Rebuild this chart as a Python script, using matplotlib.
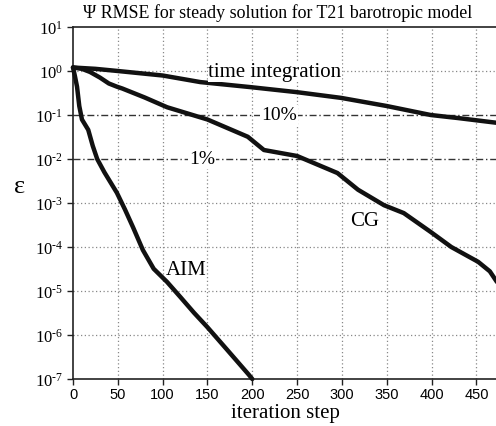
import matplotlib
matplotlib.use("Agg")
import matplotlib.pyplot as plt

# ---- data ----
time_x = [0, 25, 50, 100, 142, 198, 250, 299, 350, 399, 430, 474]
time_y = [1.2, 1.12, 1.0, 0.79, 0.56, 0.43, 0.33, 0.245, 0.16, 0.1, 0.085, 0.066]

cg_x = [0, 10, 19, 30, 40, 49, 55, 80, 105, 150, 195, 213, 250, 295, 318, 347,
        369, 399, 422, 452, 465, 473]
cg_y = [1.2, 1.12, 0.95, 0.71, 0.52, 0.44, 0.4, 0.25, 0.15, 0.079, 0.032, 0.016,
        0.0117, 0.0048, 0.002, 0.00089, 0.00059, 0.00022, 0.0001, 4.6e-5, 2.8e-5, 1.6e-5]

aim_x = [0, 2, 4.5, 7, 10, 17, 22, 27, 35, 49, 58, 67, 78, 90, 105, 120, 135,
         150, 172, 196, 200]
aim_y = [1.2, 0.79, 0.44, 0.16, 0.079, 0.046, 0.02, 0.01, 0.005, 0.0017, 0.00071,
         0.00028, 8.5e-5, 3.2e-5, 1.6e-5, 7.2e-6, 3.2e-6, 1.5e-6, 4.6e-7, 1.26e-7, 1e-7]

x_ticks = [0, 50, 100, 150, 200, 250, 300, 350, 400, 450]
y_exps = [1, 0, -1, -2, -3, -4, -5, -6, -7]
thresholds = [0.1, 0.01]
threshold_labels = ["10%", "1%"]

title = "\u03a8 RMSE for steady solution for T21 barotropic model"

serif = "Liberation Serif"
sans = "Liberation Sans"
plt.rcParams["mathtext.fontset"] = "custom"
plt.rcParams["mathtext.rm"] = serif
plt.rcParams["mathtext.it"] = serif
plt.rcParams["mathtext.bf"] = serif

fig = plt.figure(figsize=(4.96, 4.27), dpi=100)
ax = fig.add_axes([73 / 496, 1 - 380 / 427, 1 - 73 / 496 + 0.002, (380 - 28) / 427])
ax.set_yscale("log")
ax.set_xlim(0, 473)
ax.set_ylim(1e-7, 1e1)

# grid
for xt in x_ticks[1:]:
    ax.axvline(xt, color="#888888", lw=0.9, ls=(0, (1, 2)), zorder=1)
for e in y_exps:
    v = 10.0 ** e
    if v in thresholds or e in (1, -7):
        continue
    ax.axhline(v, color="#888888", lw=0.9, ls=(0, (1, 2)), zorder=1)

# threshold lines
for v in thresholds:
    ax.axhline(v, color="#333333", lw=1.0, ls=(0, (5, 2, 1, 2)), zorder=2)
ax.text(230, thresholds[0], threshold_labels[0], ha="center", va="center",
        fontsize=14, family=serif, zorder=3,
        bbox=dict(facecolor="white", edgecolor="none", pad=1.0))
ax.text(144, thresholds[1], threshold_labels[1], ha="center", va="center",
        fontsize=14, family=serif, zorder=3,
        bbox=dict(facecolor="white", edgecolor="none", pad=1.0))

# curves
for xs, ys in [(time_x, time_y), (cg_x, cg_y), (aim_x, aim_y)]:
    ax.plot(xs, ys, color="#111111", lw=3.2, solid_capstyle="round",
            solid_joinstyle="round", zorder=4, clip_on=False)

# labels
ax.text(225, 0.98, "time integration", ha="center", va="center", fontsize=15,
        family=serif, zorder=5,
        bbox=dict(facecolor="white", edgecolor="none", pad=0.5))
ax.text(325, 10 ** -3.39, "CG", ha="center", va="center", fontsize=15,
        family=serif, zorder=5)
ax.text(126, 10 ** -4.52, "AIM", ha="center", va="center", fontsize=15,
        family=serif, zorder=5)

# axes styling
ax.spines["right"].set_visible(False)
ax.spines["top"].set_linestyle((0, (3, 1)))
ax.spines["top"].set_color("#222222")
ax.spines["bottom"].set_linestyle((0, (3, 1)))
ax.spines["bottom"].set_color("#222222")
ax.spines["left"].set_color("#222222")
for s in ax.spines.values():
    s.set_linewidth(1.2)

ax.set_xticks(x_ticks)
ax.set_xticklabels([str(t) for t in x_ticks], family=sans, fontsize=10.5)
ax.set_yticks([10.0 ** e for e in y_exps])
ax.set_yticklabels([r"$10^{\text{%d}}$" % e for e in y_exps], fontsize=12)
ax.minorticks_off()
ax.tick_params(axis="both", direction="out", length=4, width=1.0, color="#222222")
ax.tick_params(axis="x", pad=2)
ax.tick_params(axis="y", pad=3)

ax.set_xlabel("iteration step", family=serif, fontsize=15, labelpad=1)
fig.text(19.5 / 496, 1 - 187 / 427, "\u03b5", family=serif, fontsize=19,
         ha="center", va="center")
fig.text(278 / 496, 1 - 13 / 427, title, family=serif, fontsize=12.9,
         ha="center", va="center")

fig.savefig("out.png", dpi=100)
